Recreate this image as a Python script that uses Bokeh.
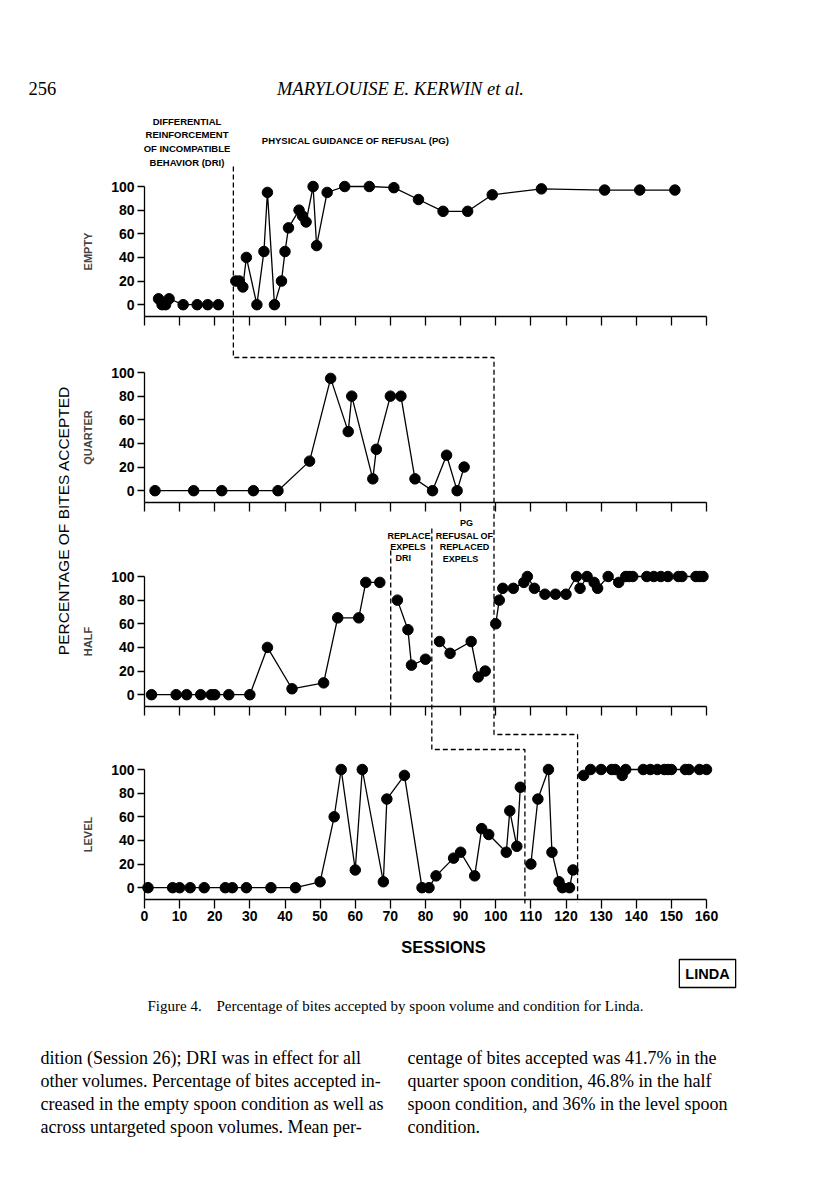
import math
from bokeh.plotting import figure
from bokeh.models import Range1d, FixedTicker, Label
from bokeh.layouts import column, row
from bokeh.embed import file_html
from bokeh.resources import INLINE
from bokeh.core.properties import value

# ---------------- data ----------------
session_ticks = [0, 10, 20, 30, 40, 50, 60, 70, 80, 90, 100, 110, 120, 130, 140, 150, 160]
pct_ticks = [0, 20, 40, 60, 80, 100]

empty_x = [4, 5, 6, 7, 11, 15, 18, 21,
           26, 27, 28, 29, 32, 34, 35, 37, 39, 40, 41, 44, 45, 46, 48, 49, 52, 57,
           64, 71, 78, 85, 92, 99, 113, 131, 141, 151]
empty_y = [5, 0, 0, 5, 0, 0, 0, 0,
           20, 20, 15, 40, 0, 45, 95, 0, 20, 45, 65, 80, 75, 70, 100, 50, 95, 100,
           100, 99, 89, 79, 79, 93, 98, 97, 97, 97]

quarter_x = [3, 14, 22, 31, 38, 47, 53, 58, 59, 65, 66, 70, 73, 77, 82, 86, 89, 91]
quarter_y = [0, 0, 0, 0, 0, 25, 95, 50, 80, 10, 35, 80, 80, 10, 0, 30, 0, 20]

half_x = [2, 9, 12, 16, 19, 20, 24, 30, 35, 42, 51, 55, 61, 63, 67,
          72, 75, 76, 80,
          84, 87, 93, 95, 97,
          100, 101, 102, 105, 108, 109, 111, 114, 117, 120, 123, 124, 126, 128, 129,
          132, 135, 137, 138, 139, 143, 145, 147, 149, 152, 153, 157, 158, 159]
half_y = [0, 0, 0, 0, 0, 0, 0, 0, 40, 5, 10, 65, 65, 95, 95,
          80, 55, 25, 30,
          45, 35, 45, 15, 20,
          60, 80, 90, 90, 95, 100, 90, 85, 85, 85, 100, 90, 100, 95, 90,
          100, 95, 100, 100, 100, 100, 100, 100, 100, 100, 100, 100, 100, 100]

level_x = [1, 8, 10, 13, 17, 23, 25, 29, 36, 43, 50, 54, 56, 60, 62, 68, 69, 74, 79, 81,
           83, 88, 90, 94, 96, 98, 103, 104, 106, 107,
           110, 112, 115, 116, 118, 119, 121, 122,
           125, 127, 130, 133, 134, 136, 137, 142, 144, 146, 148, 149, 150, 154, 155, 158, 160]
level_y = [0, 0, 0, 0, 0, 0, 0, 0, 0, 0, 5, 60, 100, 15, 100, 5, 75, 95, 0, 0,
           10, 25, 30, 10, 50, 45, 30, 65, 35, 85,
           20, 75, 100, 30, 5, 0, 0, 15,
           95, 100, 100, 100, 100, 95, 100, 100, 100, 100, 100, 100, 100, 100, 100, 100, 100]

# phase-change positions (sessions)
empty_change = 25.3
quarter_change = 99.5
half_changes = [70.1, 81.8, 99.5]
level_changes = [108.3, 123.3]

# ---------------- layout helpers ----------------
FONT = "Liberation Sans"
SERIF = "Liberation Serif"
PX0, PXW = 144.0, 562.0
PXU = PXW / 160.0
SY = 130.0 / 110.0


def sx(px):
    return (px - PX0) / PXU


def sy(py, top):
    return 100.0 - (py - top) / SY


def broken(xs, ys, cuts):
    ox, oy = [], []
    for i, (x, y) in enumerate(zip(xs, ys)):
        if i > 0 and any(xs[i - 1] < c < x for c in cuts):
            ox.append(float("nan"))
            oy.append(float("nan"))
        ox.append(x)
        oy.append(y)
    return ox, oy


# staircase phase lines (session, page-y)
stairs = [
    ([empty_change, empty_change, quarter_change, quarter_change, level_changes[1], level_changes[1]],
     [166, 357, 357, 734, 734, 902]),
    ([half_changes[1], half_changes[1], level_changes[0], level_changes[0]],
     [528, 749, 749, 903]),
    ([half_changes[0], half_changes[0]], [550, 707]),
]


def make_panel(ylabel, top, height, bt, bb, xs, ys, cuts, show_labels):
    p = figure(width=662, height=height, x_range=Range1d(0, 160), y_range=Range1d(-10, 100),
               output_backend="svg", toolbar_location=None,
               min_border_left=66, min_border_right=34, min_border_top=bt, min_border_bottom=bb)
    p.grid.visible = False
    p.outline_line_color = None
    ax = p.xaxis[0]
    ay = p.yaxis[0]
    if show_labels:
        ax.ticker = FixedTicker(ticks=session_ticks)
    else:
        ax.ticker = FixedTicker(ticks=[], minor_ticks=session_ticks)
    ay.ticker = FixedTicker(ticks=pct_ticks)
    for a in (ax, ay):
        a.axis_line_color = "black"
        a.axis_line_width = 1.3
        a.major_tick_line_color = "black"
        a.major_tick_line_width = 1.3
        a.major_tick_in = 0
        a.major_label_text_font = FONT
        a.major_label_text_font_style = "bold"
        a.major_label_text_font_size = "14px"
        a.major_label_text_color = "black"
    ay.minor_tick_line_color = None
    if show_labels:
        ax.minor_tick_line_color = None
    else:
        ax.minor_tick_line_color = "black"
        ax.minor_tick_line_width = 1.3
        ax.minor_tick_in = 0
        ax.minor_tick_out = 9
    ax.major_tick_out = 9
    ax.major_label_standoff = 2
    ay.major_tick_out = 7
    ay.major_label_standoff = 3
    ay.axis_label = ylabel
    ay.axis_label_text_font = FONT
    ay.axis_label_text_font_style = "bold"
    ay.axis_label_text_font_size = "11px"
    ay.axis_label_standoff = 14
    for st_x, st_py in stairs:
        p.line(st_x, [sy(v, top) for v in st_py], line_dash="5 3", line_width=1.3,
               color="black", level="overlay")
    lx, ly = broken(xs, ys, cuts)
    p.line(lx, ly, line_width=1.3, color="black", level="overlay")
    p.scatter(xs, ys, size=10.5, color="black", level="overlay")
    return p


def glyph_text(p, xs, ys, texts, size, align="center", style="bold"):
    p.text(x=xs, y=ys, text=texts, text_font=value(FONT), text_font_size=value(size),
           text_font_style=value(style), text_align=value(align), text_baseline=value("middle"),
           text_color="black", level="overlay")


def add_label(p, x, y, text, size, align="center", style="normal", font=FONT, angle=0.0):
    p.add_layout(Label(x=x, y=y, text=text, text_font=font, text_font_size=size,
                       text_font_style=style, text_align=align, text_baseline="middle",
                       text_color="black", angle=angle))


T_E, T_Q, T_H, T_L = 186, 372, 576, 769

p_empty = make_panel("EMPTY", T_E, 235, 81, 24, empty_x, empty_y, [empty_change], False)
p_quarter = make_panel("QUARTER", T_Q, 174, 32, 12, quarter_x, quarter_y, [quarter_change], False)
p_half = make_panel("HALF", T_H, 204, 62, 12, half_x, half_y, half_changes, False)
p_level = make_panel("LEVEL", T_L, 237, 51, 56, level_x, level_y, level_changes, True)

# condition labels
dri_lines = ["DIFFERENTIAL", "REINFORCEMENT", "OF INCOMPATIBLE", "BEHAVIOR (DRI)"]
dri_py = [121, 134, 148, 162]
glyph_text(p_empty, [sx(186.5)] * 4, [sy(v, T_E) for v in dri_py], dri_lines, "9.5px")
glyph_text(p_empty, [sx(355)], [sy(140, T_E)], ["PHYSICAL GUIDANCE OF REFUSAL (PG)"], "9.5px")

glyph_text(p_half, [sx(408.5), sx(407.5), sx(466), sx(464), sx(464), sx(460)],
           [sy(v, T_H) for v in [535.5, 546.5, 522, 535, 546.5, 558]],
           ["REPLACE", "EXPELS", "PG", "REFUSAL OF", "REPLACED", "EXPELS"], "9px")
glyph_text(p_half, [sx(395)], [sy(557, T_H)], ["DRI"], "9px", align="left")

glyph_text(p_level, [sx(443)], [sy(946, T_L)], ["SESSIONS"], "16.5px")


def blank(w, h, x0, x1, y0, y1):
    p = figure(width=w, height=h, x_range=Range1d(x0, x1), y_range=Range1d(y1, y0),
               output_backend="svg", toolbar_location=None, min_border=0,
               x_axis_type=None, y_axis_type=None)
    p.grid.visible = False
    p.outline_line_color = None
    return p


# big y title
p_title = blank(78, 850, 0, 78, 105, 955)
add_label(p_title, 63, 520, "PERCENTAGE OF BITES ACCEPTED", "15.5px", angle=math.pi / 2)

# page header
p_head = blank(808, 105, 0, 808, 0, 105)
add_label(p_head, 28, 88, "256", "18.5px", align="left", font=SERIF)
add_label(p_head, 400, 88, "MARYLOUISE E. KERWIN et al.", "18.5px", style="italic", font=SERIF)

# LINDA box, caption and body text
p_foot = blank(808, 237, 0, 808, 955, 1192)
p_foot.add_layout(Label(x=707, y=973, text="LINDA", text_font=FONT, text_font_size="14.5px",
                        text_font_style="bold", text_align="center", text_baseline="middle",
                        border_line_color="black", border_line_width=1.3, padding=6,
                        text_color="black"))
add_label(p_foot, 147, 1005, "Figure 4.", "15px", align="left", font=SERIF)
add_label(p_foot, 216, 1005, "Percentage of bites accepted by spoon volume and condition for Linda.",
          "15px", align="left", font=SERIF)
left_lines = ["dition (Session 26); DRI was in effect for all",
              "other volumes. Percentage of bites accepted in-",
              "creased in the empty spoon condition as well as",
              "across untargeted spoon volumes. Mean per-"]
right_lines = ["centage of bites accepted was 41.7% in the",
               "quarter spoon condition, 46.8% in the half",
               "spoon condition, and 36% in the level spoon",
               "condition."]
for i, (lt, rt) in enumerate(zip(left_lines, right_lines)):
    yy = 1057 + 23 * i
    add_label(p_foot, 40, yy, lt, "18px", align="left", font=SERIF)
    add_label(p_foot, 407, yy, rt, "18px", align="left", font=SERIF)

layout = column(p_head,
                row(p_title, column(p_empty, p_quarter, p_half, p_level, spacing=0), spacing=0),
                p_foot, spacing=0)

open("out.html", "w").write(file_html(layout, INLINE))
